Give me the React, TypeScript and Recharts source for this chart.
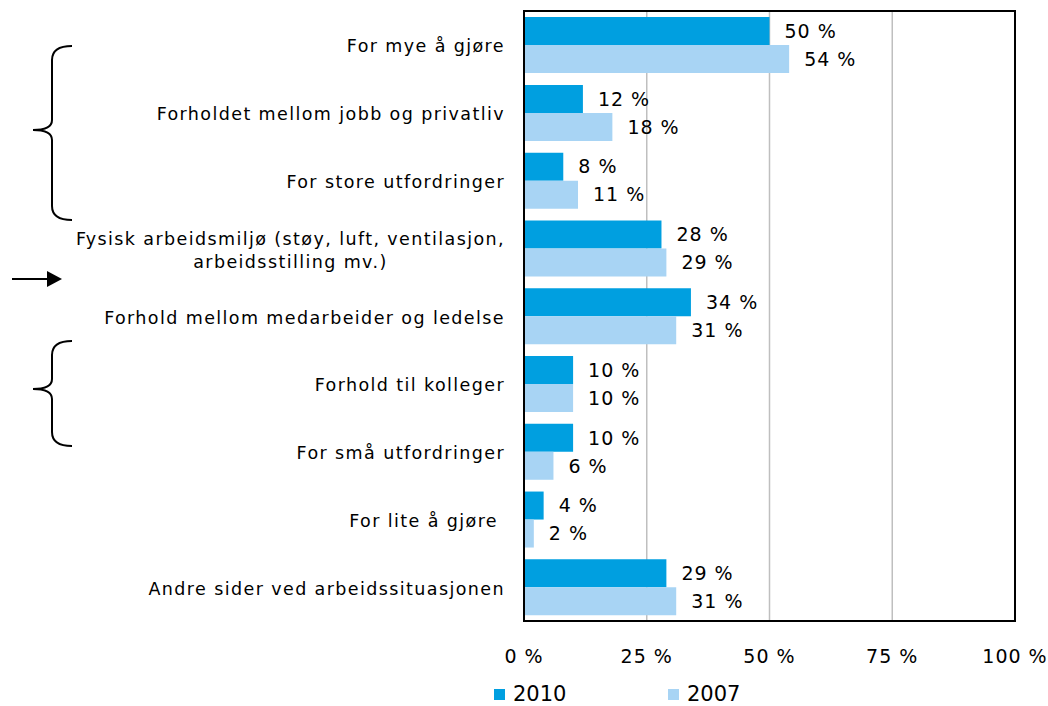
import React from 'react';
import {
  BarChart, Bar, XAxis, YAxis, CartesianGrid, Legend, LabelList, ReferenceArea,
} from 'recharts';

const categories = [
  'For mye å gjøre',
  'Forholdet mellom jobb og privatliv',
  'For store utfordringer',
  'Fysisk arbeidsmiljø (støy, luft, ventilasjon,\narbeidsstilling mv.)',
  'Forhold mellom medarbeider og ledelse',
  'Forhold til kolleger',
  'For små utfordringer',
  'For lite å gjøre ',
  'Andre sider ved arbeidssituasjonen',
];
const values2010 = [50, 12, 8, 28, 34, 10, 10, 4, 29];
const values2007 = [54, 18, 11, 29, 31, 10, 6, 2, 31];
const xTicks = [0, 25, 50, 75, 100];

const data = categories.map((name, i) => ({ name, y2010: values2010[i], y2007: values2007[i] }));

const FONT = '"DejaVu Sans", Verdana, sans-serif';
const DARK = '#009FE0';
const LIGHT = '#A8D4F4';
const CAT_SIZE = 17.5;
const CAT_SPACING = 1.4;

let ctx: CanvasRenderingContext2D | null = null;
const measure = (s: string) => {
  if (!ctx) ctx = document.createElement('canvas').getContext('2d');
  if (!ctx) return s.length * 10;
  ctx.font = `${CAT_SIZE}px "DejaVu Sans"`;
  return ctx.measureText(s).width + s.length * CAT_SPACING;
};

const CategoryTick = (props: any) => {
  const { x, y, payload } = props;
  const lines: string[] = String(payload.value).split('\n');
  const right = x + 2;
  const style = { whiteSpace: 'pre' as const, letterSpacing: CAT_SPACING };
  if (lines.length === 1) {
    return (
      <text x={right} y={y} dy={7.5} textAnchor="end" fontSize={CAT_SIZE} fontFamily={FONT} fill="#000" style={style}>
        {lines[0]}
      </text>
    );
  }
  const mid = right - measure(lines[0]) / 2;
  return (
    <g>
      {lines.map((l, i) => (
        <text key={i} x={mid} y={y} dy={-3.5 + i * 23} textAnchor="middle" fontSize={CAT_SIZE} fontFamily={FONT} fill="#000" style={style}>
          {l}
        </text>
      ))}
    </g>
  );
};

const LegendContent = () => (
  <svg width={1048} height={30} style={{ display: 'block', overflow: 'visible' }}>
    <rect x={494} y={13} width={11} height={11} fill={DARK} />
    <text x={513} y={25} fontSize={21} fontFamily={FONT} fill="#000">2010</text>
    <rect x={668} y={13} width={11} height={11} fill={LIGHT} />
    <text x={687} y={25} fontSize={21} fontFamily={FONT} fill="#000">2007</text>
  </svg>
);

const brace = (y0: number, yt: number, y1: number) =>
  `M72 ${y0} Q52 ${y0} 52 ${y0 + 14} L52 ${yt - 10} Q52 ${yt} 33 ${yt} Q52 ${yt} 52 ${yt + 10} L52 ${y1 - 14} Q52 ${y1} 72 ${y1}`;

export default function App() {
  return (
    <div style={{ position: 'absolute', left: 0, top: 0, width: 1048, height: 706, background: '#fff' }}>
      <BarChart
        width={1048}
        height={706}
        data={data}
        layout="vertical"
        margin={{ top: 11, right: 33, bottom: 0, left: 0 }}
        barCategoryGap="9%"
        barGap={0}
      >
        <CartesianGrid horizontal={false} stroke="#BFBFBF" strokeWidth={1.5} />
        <XAxis
          type="number"
          domain={[0, 100]}
          ticks={xTicks}
          tickFormatter={(v) => `${v} %`}
          axisLine={{ stroke: '#000', strokeWidth: 2 }}
          tickLine={false}
          tickSize={0}
          tickMargin={29}
          height={55}
          interval={0}
          tick={{ fontSize: 19, fill: '#000', fontFamily: FONT, letterSpacing: 1 } as any}
        />
        <YAxis
          type="category"
          dataKey="name"
          width={524}
          axisLine={{ stroke: '#000', strokeWidth: 2 }}
          tickLine={false}
          tickSize={0}
          tickMargin={21}
          interval={0}
          tick={<CategoryTick />}
        />
        <ReferenceArea x1={0} x2={100} stroke="#000" strokeWidth={2} fill="none" fillOpacity={0} />
        <Bar dataKey="y2010" name="2010" fill={DARK} isAnimationActive={false}>
          <LabelList
            dataKey="y2010"
            position="right"
            offset={15}
            formatter={(v: any) => `${v} %`}
            style={{ fontSize: 19, fill: '#000', fontFamily: FONT, letterSpacing: 1 }}
          />
        </Bar>
        <Bar dataKey="y2007" name="2007" fill={LIGHT} isAnimationActive={false}>
          <LabelList
            dataKey="y2007"
            position="right"
            offset={15}
            formatter={(v: any) => `${v} %`}
            style={{ fontSize: 19, fill: '#000', fontFamily: FONT, letterSpacing: 1 }}
          />
        </Bar>
        <Legend verticalAlign="bottom" height={30} wrapperStyle={{ left: 0, width: 1048 }} content={<LegendContent />} />
      </BarChart>
      <svg width={100} height={470} style={{ position: 'absolute', left: 0, top: 0, pointerEvents: 'none' }}>
        <path d={brace(46, 130, 220)} fill="none" stroke="#000" strokeWidth={2} />
        <path d={brace(341, 389, 446)} fill="none" stroke="#000" strokeWidth={2} />
        <line x1={12} y1={279} x2={48} y2={279} stroke="#000" strokeWidth={2} />
        <polygon points="47,271 62,279 47,287" fill="#000" />
      </svg>
    </div>
  );
}
